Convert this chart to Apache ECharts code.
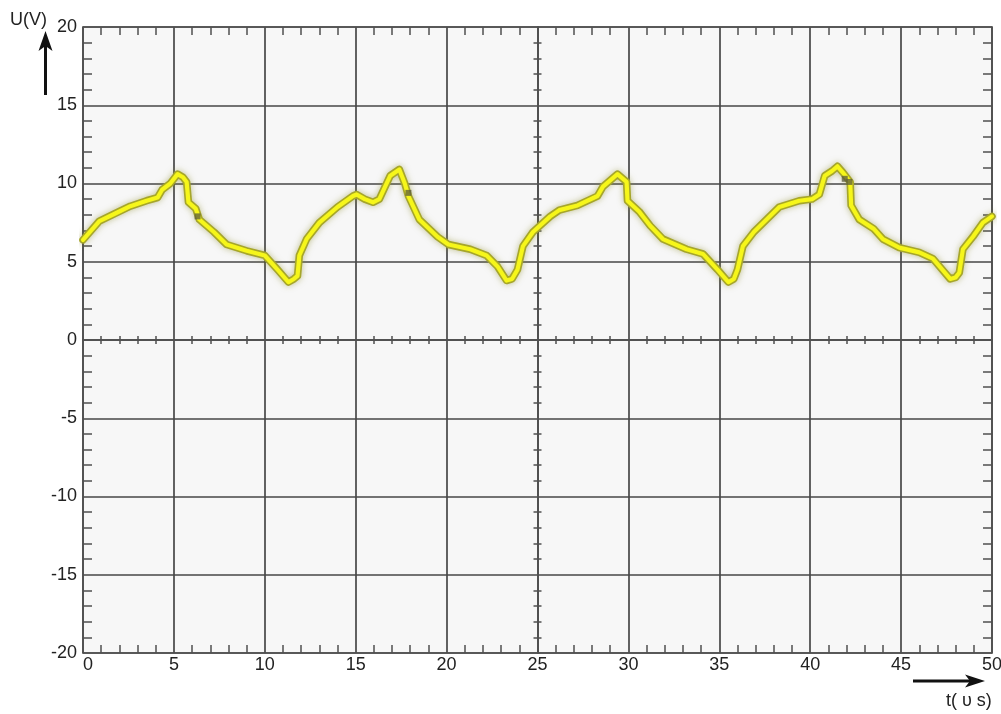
<!DOCTYPE html>
<html>
<head>
<meta charset="utf-8">
<script src="https://cdn.jsdelivr.net/npm/echarts@6/dist/echarts.min.js"></script>
<style>
  html, body { margin: 0; padding: 0; background: #ffffff; }
  #chart { width: 1001px; height: 714px; }
</style>
</head>
<body>
<div id="chart"></div>
<script>
// Sampled trace: time in microseconds, voltage in volts
const timeUs = [0, 0.9, 1.8, 2.6, 3.5, 4.1, 4.35, 4.8, 5.2, 5.5, 5.7, 5.8, 6.2, 6.4, 7.2, 7.9, 9.0, 10.0, 10.7, 11.3, 11.6, 11.8, 11.9, 12.3, 13.0, 14.0, 14.85, 15.05, 15.5, 15.95, 16.3, 16.9, 17.4, 17.7, 17.9, 18.5, 19.5, 20.1, 21.3, 22.2, 22.8, 23.3, 23.6, 23.9, 24.2, 24.75, 25.7, 26.2, 27.2, 28.3, 28.6, 29.0, 29.4, 29.9, 29.95, 30.6, 31.2, 31.9, 33.2, 34.1, 34.9, 35.5, 35.8, 36.0, 36.3, 36.9, 37.6, 38.3, 39.4, 40.1, 40.5, 40.8, 41.2, 41.5, 41.8, 42.2, 42.25, 42.7, 43.5, 44.0, 44.9, 46.0, 46.75, 47.7, 48.0, 48.2, 48.4, 48.95, 49.5, 50.0];
const voltage = [6.4, 7.6, 8.1, 8.55, 8.9, 9.1, 9.6, 10.0, 10.6, 10.4, 10.1, 8.8, 8.4, 7.7, 6.9, 6.1, 5.7, 5.4, 4.5, 3.7, 3.9, 4.1, 5.4, 6.45, 7.5, 8.5, 9.2, 9.3, 9.0, 8.8, 9.0, 10.5, 10.9, 10.0, 9.2, 7.7, 6.6, 6.1, 5.8, 5.4, 4.7, 3.8, 3.9, 4.5, 6.0, 6.9, 7.9, 8.3, 8.6, 9.2, 9.8, 10.2, 10.6, 10.1, 8.9, 8.2, 7.3, 6.45, 5.8, 5.5, 4.5, 3.7, 3.9, 4.5, 6.0, 6.9, 7.7, 8.5, 8.9, 9.0, 9.3, 10.5, 10.8, 11.1, 10.7, 10.1, 8.6, 7.7, 7.1, 6.45, 5.9, 5.6, 5.2, 3.9, 4.0, 4.3, 5.8, 6.6, 7.5, 7.9];

// Dark specks sitting on the trace
const speckTime = [6.3, 17.9, 41.9, 42.15];
const speckVolt = [7.9, 9.4, 10.3, 10.1];

// Axis ranges and division sizes
const xRange = [0, 50];
const xDivision = 5;
const yRange = [-20, 20];
const yDivision = 5;

const W = 1001, H = 714;
const GRID = { left: 83, right: 9, top: 27, bottom: 61 };
const plotW = W - GRID.left - GRID.right;
const plotH = H - GRID.top - GRID.bottom;

const ink = '#505050';
const labelFont = "'Liberation Sans', Arial, sans-serif";
const labelSize = 18;

const chart = echarts.init(document.getElementById('chart'), null, { renderer: 'canvas' });

// Minor-tick-only axis used for the frame edges and the centre cross
function tickAxis(position, offset, inside, len, range, step) {
  return {
    type: 'value', min: range[0], max: range[1], interval: step,
    position: position, offset: offset,
    axisLine: { show: true, onZero: false, lineStyle: { color: ink, width: 1.6 } },
    axisTick: { show: false, inside: inside },
    minorTick: { show: true, splitNumber: 5, length: len, lineStyle: { color: ink, width: 1.5 } },
    axisLabel: { show: false },
    splitLine: { show: false }
  };
}

const xMain = {
  type: 'value', min: xRange[0], max: xRange[1], interval: xDivision, position: 'bottom',
  axisLine: { show: true, onZero: false, lineStyle: { color: ink, width: 1.6 } },
  axisTick: { show: false, inside: true },
  minorTick: { show: true, splitNumber: 5, length: 8, lineStyle: { color: ink, width: 1.5 } },
  axisLabel: { show: true, margin: 3, color: '#222', fontSize: labelSize, fontFamily: labelFont, alignMinLabel: 'left', showMinLabel: true, showMaxLabel: true },
  splitLine: { show: true, lineStyle: { color: '#474747', width: 1.7 } }
};
const yMain = {
  type: 'value', min: yRange[0], max: yRange[1], interval: yDivision, position: 'left',
  axisLine: { show: true, onZero: false, lineStyle: { color: ink, width: 1.6 } },
  axisTick: { show: false, inside: true },
  minorTick: { show: true, splitNumber: 5, length: 9, lineStyle: { color: ink, width: 1.5 } },
  axisLabel: { show: true, margin: 6, color: '#222', fontSize: labelSize, fontFamily: labelFont, showMinLabel: true, showMaxLabel: true },
  splitLine: { show: true, lineStyle: { color: '#474747', width: 1.7 } }
};

const trace = timeUs.map((t, i) => [t, voltage[i]]);
const specks = speckTime.map((t, i) => [t, speckVolt[i]]);

chart.setOption({
  animation: false,
  backgroundColor: '#ffffff',
  grid: {
    left: GRID.left, right: GRID.right, top: GRID.top, bottom: GRID.bottom,
    containLabel: false, outerBoundsMode: 'none',
    show: true, backgroundColor: '#f7f7f7', borderWidth: 0
  },
  xAxis: [
    xMain,
    tickAxis('top', 0, true, 8, xRange, xDivision),
    tickAxis('bottom', -plotH / 2, true, 4, xRange, xDivision),
    tickAxis('bottom', -plotH / 2, false, 4, xRange, xDivision)
  ],
  yAxis: [
    yMain,
    tickAxis('right', 0, true, 9, yRange, yDivision),
    tickAxis('left', -plotW / 2, true, 4, yRange, yDivision),
    tickAxis('left', -plotW / 2, false, 4, yRange, yDivision)
  ],
  series: [
    {
      name: 'halo', type: 'line', xAxisIndex: 0, yAxisIndex: 0, data: trace,
      showSymbol: false, silent: true, z: 3,
      lineStyle: { color: '#a6a62a', width: 7.5, join: 'round', cap: 'round',
                   shadowBlur: 6, shadowColor: 'rgba(140,140,40,0.5)' }
    },
    {
      name: 'U', type: 'line', xAxisIndex: 0, yAxisIndex: 0, data: trace,
      showSymbol: false, silent: true, z: 4,
      lineStyle: { color: '#f6f61a', width: 4.2, join: 'round', cap: 'round' }
    },
    {
      name: 'specks', type: 'scatter', xAxisIndex: 0, yAxisIndex: 0, data: specks,
      symbol: 'rect', symbolSize: 6, silent: true, z: 5,
      itemStyle: { color: '#5a5a3c', opacity: 0.75 }
    }
  ],
  graphic: [
    { type: 'text', left: 10, top: 11, style: { text: 'U(V)', font: labelSize + 'px ' + labelFont, fill: '#222' } },
    { type: 'line', shape: { x1: 45.5, y1: 95, x2: 45.5, y2: 44 }, style: { stroke: '#111', lineWidth: 3 } },
    { type: 'polygon', shape: { points: [[45.5, 31], [52.5, 51], [45.5, 46], [38.5, 51]] }, style: { fill: '#111' } },
    { type: 'line', shape: { x1: 913, y1: 681, x2: 972, y2: 681 }, style: { stroke: '#111', lineWidth: 3 } },
    { type: 'polygon', shape: { points: [[985, 681], [965, 674.5], [970, 681], [965, 687.5]] }, style: { fill: '#111' } },
    { type: 'text', left: 946, top: 692, style: { text: 't( υ s)', font: labelSize + 'px ' + labelFont, fill: '#222' } }
  ]
});
</script>
</body>
</html>
